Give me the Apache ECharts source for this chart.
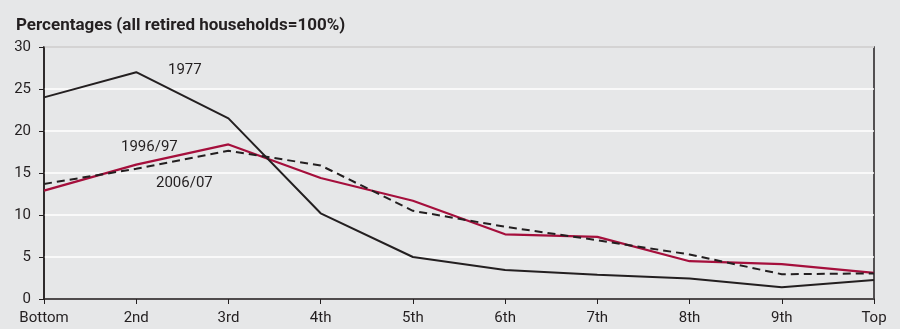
<!DOCTYPE html>
<html>
<head>
<meta charset="utf-8">
<script src="https://cdn.jsdelivr.net/npm/echarts@6/dist/echarts.min.js"></script>
<style>
html,body{margin:0;padding:0;background:#e6e7e8;}
#c{width:900px;height:329px;}
</style>
</head>
<body>
<div id="c"></div>
<script>
var categories = ['Bottom','2nd','3rd','4th','5th','6th','7th','8th','9th','Top'];
var s1977 = [24.0, 27.0, 21.5, 10.2, 5.0, 3.45, 2.9, 2.45, 1.4, 2.25];
var s1996 = [12.9, 16.0, 18.4, 14.4, 11.7, 7.7, 7.4, 4.5, 4.15, 3.1];
var s2006 = [13.7, 15.5, 17.65, 15.9, 10.5, 8.6, 7.0, 5.3, 2.95, 3.05];
var yTicks = [0, 5, 10, 15, 20, 25, 30];
var titleText = 'Percentages (all retired households=100%)';
var seriesLabels = ['1977', '1996/97', '2006/07'];

var font = 'Roboto';
var dark = '#231f20';
var red = '#a50f3c';

var chart = echarts.init(document.getElementById('c'));
chart.setOption({
  backgroundColor: '#e6e7e8',
  animation: false,
  title: {
    text: titleText, left: 11, top: 12,
    textStyle: {fontFamily: font, fontSize: 17, fontWeight: 'bold', color: dark}
  },
  grid: {left: 44, right: 26, top: 47, bottom: 30, show: true, borderColor: dark, borderWidth: 1.5, backgroundColor: '#e6e7e8'},
  xAxis: {
    type: 'category', data: categories, boundaryGap: false,
    axisLine: {lineStyle: {color: dark, width: 1.5}},
    axisTick: {show: true, length: 5, lineStyle: {color: dark}},
    axisLabel: {fontFamily: font, fontSize: 15, color: dark, margin: 12},
    splitLine: {show: false}
  },
  yAxis: {
    type: 'value', min: yTicks[0], max: yTicks[yTicks.length-1], interval: 5,
    axisLine: {show: true, lineStyle: {color: dark, width: 1.5}},
    axisTick: {show: true, length: 5, lineStyle: {color: dark}},
    axisLabel: {fontFamily: font, fontSize: 15, color: dark, margin: 13},
    splitLine: {show: true, lineStyle: {color: '#ffffff', width: 1.5}}
  },
  series: [
    {name: seriesLabels[0], type: 'line', data: s1977, symbol: 'none', lineStyle: {color: dark, width: 2}, z: 3},
    {name: seriesLabels[1], type: 'line', data: s1996, symbol: 'none', lineStyle: {color: red, width: 2.2}, z: 2},
    {name: seriesLabels[2], type: 'line', data: s2006, symbol: 'none', lineStyle: {color: dark, width: 2, type: [8, 5]}, z: 4}
  ],
  graphic: [
    {type: 'text', left: 168, top: 63, style: {text: seriesLabels[0], font: '15px Roboto', fill: dark}},
    {type: 'text', left: 121, top: 140, style: {text: seriesLabels[1], font: '15px Roboto', fill: dark}},
    {type: 'text', left: 156, top: 176, style: {text: seriesLabels[2], font: '15px Roboto', fill: dark}}
  ]
});
</script>
</body>
</html>
